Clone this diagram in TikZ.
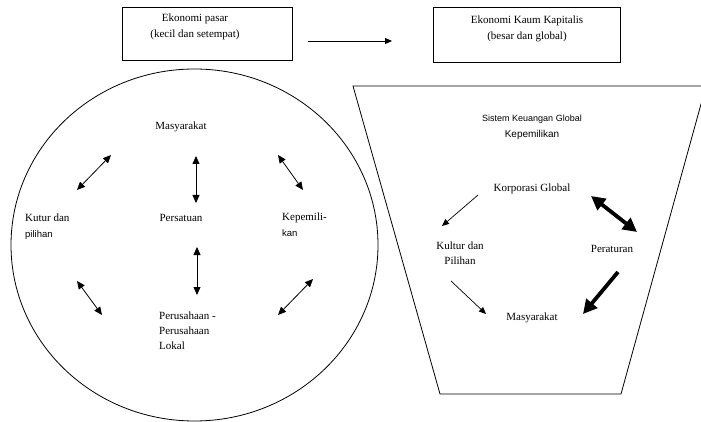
\documentclass[tikz,border=0pt]{standalone}
\usepackage{fontspec}
\setmainfont{Liberation Serif}
\newfontfamily\smallsans{Liberation Sans}
\usetikzlibrary{arrows.meta}

\tikzset{
  lbl/.style = {font=\fontsize{11}{16}\selectfont, inner sep=0pt},
  sml/.style = {font=\smallsans\fontsize{9}{16}\selectfont, inner sep=0pt},
  box/.style = {draw, line width=0.8pt, inner sep=0pt},
  dbl/.style = {{Triangle[length=8pt,width=7pt]}-{Triangle[length=8pt,width=7pt]}, line width=0.8pt},
  one/.style = {-{Triangle[length=7pt,width=6pt]}, line width=0.7pt},
  fat/.style = {-{Triangle[length=14pt,width=14pt]}, line width=3.8pt},
  fatdbl/.style = {{Triangle[length=14pt,width=14pt]}-{Triangle[length=14pt,width=14pt]}, line width=3.8pt}
}

\begin{document}
\begin{tikzpicture}[x=1pt, y=-1pt]
    \useasboundingbox (0,0) rectangle (701,422);

    % two boxes on top
    \node[box, minimum width=170pt, minimum height=53pt] (pasar) at (207,33.5) {};
    \node[box, minimum width=187pt, minimum height=55pt] (kapital) at (526.5,34.5) {};
    \node[lbl, align=center] (pasartxt) at (195,27) {Ekonomi pasar\\(kecil dan setempat)};
    \node[lbl, align=center] (kapitaltxt) at (527,29) {Ekonomi Kaum Kapitalis\\(besar dan global)};
    \coordinate (top1) at (308,41);
    \coordinate (top2) at (392,41);
    \draw[one, line width=0.9pt] (top1) -- (top2);

    % local economy circle
    \draw[line width=0.8pt] (194.5,245) ellipse [x radius=183.5pt, y radius=176pt];
    \node[lbl] (cmasy) at (181,127) {Masyarakat};
    \node[lbl] (cpers) at (181,218) {Persatuan};
    \node[lbl, anchor=west, align=left] (ckul) at (25,226.5) {Kutur dan\\{\smallsans\fontsize{9.5}{16}\selectfont pilihan}};
    \node[lbl, anchor=west, align=left] (ckep) at (282,224.5) {Kepemili-\\{\smallsans\fontsize{9.5}{16}\selectfont kan}};
    \node[lbl, anchor=west, align=left, font=\fontsize{11}{15}\selectfont] (cper) at (159,331) {Perusahaan -\\Perusahaan\\Lokal};

    \coordinate (c1a) at (77,190);   \coordinate (c1b) at (111,155);
    \coordinate (c2a) at (196,156);  \coordinate (c2b) at (196,203);
    \coordinate (c3a) at (278,155);  \coordinate (c3b) at (303,190);
    \coordinate (c4a) at (197,247);  \coordinate (c4b) at (197,295);
    \coordinate (c5a) at (77,281);   \coordinate (c5b) at (102,315);
    \coordinate (c6a) at (313,279);  \coordinate (c6b) at (278,315);
    \foreach \i in {1,...,6}
        \draw[dbl] (c\i a) -- (c\i b);

    % global economy funnel
    \draw[line width=0.8pt] (353,86) -- (706,86) -- (621,394) -- (440,394) -- cycle;
    \node[sml, align=center] (tsis) at (532,127) {Sistem Keuangan Global\\{\fontsize{10}{16}\selectfont Kepemilikan}};
    \node[lbl] (tkor) at (532,189) {Korporasi Global};
    \node[lbl, align=center, font=\fontsize{11}{15}\selectfont] (tkul) at (460,253.5) {Kultur dan\\Pilihan};
    \node[lbl] (tper) at (612,249) {Peraturan};
    \node[lbl] (tmasy) at (532,318) {Masyarakat};

    \coordinate (t1a) at (478,195);  \coordinate (t1b) at (442,226);
    \coordinate (t2a) at (591,196);  \coordinate (t2b) at (637,232);
    \coordinate (t3a) at (451,281);  \coordinate (t3b) at (486,314);
    \coordinate (t4a) at (618,272);  \coordinate (t4b) at (583,314);
    \draw[one] (t1a) -- (t1b);
    \draw[fatdbl] (t2a) -- (t2b);
    \draw[one] (t3a) -- (t3b);
    \draw[fat] (t4a) -- (t4b);
\end{tikzpicture}
\end{document}
